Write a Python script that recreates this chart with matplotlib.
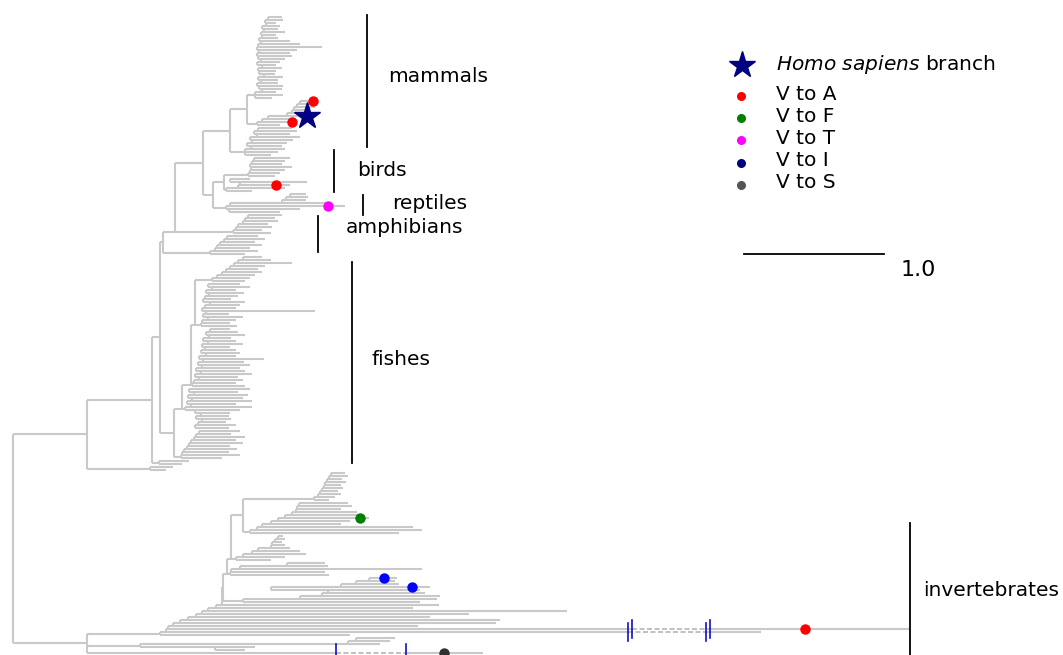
import matplotlib
matplotlib.use("Agg")
import matplotlib.pyplot as plt
from matplotlib.collections import LineCollection

# Values are branch lengths (distance from the root, scale bar = 1.0).
# Each bush: *_TIP = tip depth per leaf (top to bottom),
#            *_SPLIT = ladder split between consecutive items.
MAM_TOP_TIP = [1.92, 1.93, 1.88, 1.91, 1.89, 1.94, 1.88, 1.89, 1.98, 2.05,
               2.21, 2.03, 1.98, 1.99, 1.94, 1.91, 1.88, 1.92, 1.88, 1.87,
               1.93, 1.89, 1.89, 1.93, 1.92, 1.88, 1.93, 1.85]
MAM_TOP_SPLIT = [1.82, 1.80, 1.81, 1.78, 1.79, 1.77, 1.78, 1.76, 1.77, 1.75,
                 1.74, 1.76, 1.74, 1.75, 1.77, 1.74, 1.78, 1.75, 1.76, 1.79,
                 1.75, 1.77, 1.74, 1.76, 1.78, 1.73, 1.73]
PRIMATES_TIP = [2.15, 2.13, 2.16, 2.11, 2.13, 2.09, 2.02, 2.00, 1.91]
PRIMATES_SPLIT = [2.05, 2.03, 2.01, 1.99, 1.96, 1.82, 1.78, 1.74]
MAM_LOW_TIP = [1.99, 2.03, 1.98, 2.05, 2.00, 1.96, 1.92, 1.94, 1.89, 1.84]
MAM_LOW_SPLIT = [1.75, 1.72, 1.74, 1.69, 1.71, 1.67, 1.70, 1.66, 1.66]
BIRD_BUSH_TIP = [1.98, 1.94, 1.92, 1.99, 1.94, 1.91, 1.87]
BIRD_BUSH_SPLIT = [1.72, 1.71, 1.69, 1.70, 1.69, 1.68]
BIRD_RED_TIP = [1.69, 2.10, 1.98, 1.94, 1.71]
BIRD_RED_SPLIT = [1.55, 1.62, 1.61, 1.52]
REPTILE_TIP = [2.09, 2.11, 2.09, 2.26, 2.37, 2.05, 1.91]
REPTILE_SPLIT = [1.98, 1.95, 1.92, 1.55, 1.52, 1.54]
AMPH_A_TIP = [1.92, 1.87, 1.89, 1.82, 1.85, 1.78, 1.84]
AMPH_A_SPLIT = [1.68, 1.66, 1.64, 1.61, 1.59, 1.57]
AMPH_B_TIP = [1.75, 1.80, 1.73, 1.78, 1.69, 1.75, 1.66]
AMPH_B_SPLIT = [1.53, 1.51, 1.48, 1.46, 1.44, 1.41]
FISH_A_TIP = [1.78, 1.84, 1.99, 1.80, 1.75, 1.78, 1.73, 1.69, 1.66]
FISH_A_SPLIT = [1.64, 1.61, 1.58, 1.55, 1.52, 1.49, 1.46, 1.42]
FISH_B_TIP = [1.62, 1.69, 1.59, 1.65, 1.61, 1.56, 1.66, 1.62, 1.59, 2.16,
              1.54, 1.64, 1.59, 1.55, 1.60]
FISH_B_SPLIT = [1.39, 1.42, 1.38, 1.40, 1.37, 1.36, 1.41, 1.37, 1.35, 1.38,
                1.36, 1.39, 1.35, 1.34]
FISH_C_TIP = [1.55, 1.61, 1.66, 1.56, 1.59, 1.64, 1.55, 1.59, 1.62, 1.59,
              1.79, 1.65, 1.69, 1.62, 1.66, 1.71, 1.61, 1.64, 1.59, 1.66]
FISH_C_SPLIT = [1.41, 1.38, 1.40, 1.36, 1.39, 1.35, 1.37, 1.34, 1.38, 1.33,
                1.36, 1.32, 1.35, 1.31, 1.34, 1.30, 1.33, 1.29, 1.28]
FISH_D_TIP = [1.69, 1.61, 1.68, 1.64, 1.71, 1.59, 1.71, 1.62, 1.55, 1.54,
              1.56, 1.52, 1.59, 1.54]
FISH_D_SPLIT = [1.26, 1.29, 1.25, 1.28, 1.24, 1.27, 1.23, 1.30, 1.34, 1.31,
                1.35, 1.32, 1.30]
FISH_E_TIP = [1.62, 1.56, 1.66, 1.59, 1.64, 1.55, 1.60, 1.54, 1.62, 1.49]
FISH_E_SPLIT = [1.33, 1.31, 1.29, 1.27, 1.26, 1.24, 1.22, 1.21, 1.20]
CHOND_TIP = [1.26, 1.21]
CHOND_SPLIT = [1.04]
CYCLO_TIP = [1.14, 1.09]
CYCLO_SPLIT = [0.98]

INV_A1_TIP = [2.37, 2.39, 2.35, 2.38, 2.34, 2.36, 2.32, 2.34, 2.30, 2.26]
INV_A1_SPLIT = [2.27, 2.26, 2.24, 2.23, 2.22, 2.21, 2.19, 2.18, 2.15]
INV_A2_TIP = [2.39, 2.42, 2.34, 2.46, 2.49, 2.54, 2.41, 2.34, 2.86, 2.92, 2.76]
INV_A2_SPLIT = [2.04, 2.03, 2.02, 1.99, 1.94, 1.89, 1.84, 1.78, 1.74, 1.69]
INV_B_TIP = [1.93, 1.94, 1.92, 1.94, 1.98, 2.05, 2.09, 1.94, 1.84]
INV_B_SPLIT = [1.89, 1.87, 1.85, 1.84, 1.75, 1.71, 1.64, 1.59]
INV_C_TIP = [2.23, 2.25, 2.92, 2.23, 2.26]
INV_C_SPLIT = [1.96, 1.62, 1.56, 1.55]
INV_D_TIP = [2.74, 2.73, 2.76, 2.98, 2.91, 2.94, 3.05, 3.03, 2.91]
INV_D_SPLIT = [2.54, 2.45, 2.34, 1.84, 2.25, 2.21, 2.05, 1.64]
INV_E_TIP = [3.04, 2.86, 3.96, 3.26, 2.98, 3.48, 3.45, 2.89, 6.40, 5.34, 2.41]
INV_E_SPLIT = [1.49, 1.45, 1.39, 1.35, 1.31, 1.25, 1.19, 1.14, 1.11, 1.09, 1.05]
INV_BOT_TIP = [2.73, 2.69, 2.62, 1.73, 1.66]
INV_BOT_SPLIT = [2.45, 2.39, 0.91, 1.44]
BLACK_TIP = 3.36

# backbone: clade -> (children top to bottom, splits between them)
BACKBONE = {
    "root": (["vert", "invert"], [0.0]),
    "vert": (["gnath", "cyclo"], [0.53]),
    "gnath": (["osteo", "chond"], [0.99]),
    "osteo": (["tetrapods", "fishes"], [1.05]),
    "tetrapods": (["amniotes", "amph_a", "amph_b"], [1.16, 1.07]),
    "amniotes": (["mammals", "sauropsids"], [1.36]),
    "mammals": (["mam_a", "mam_low"], [1.55]),
    "mam_a": (["mam_top", "primates"], [1.67]),
    "sauropsids": (["birds", "reptiles"], [1.43]),
    "birds": (["bird_bush", "bird_red"], [1.51]),
    "fishes": (["fish_a", "fish_b", "fish_c", "fish_d", "fish_e"],
               [1.30, 1.27, 1.21, 1.15]),
    "invert": (["inv_ladder", "inv_bot", BLACK_TIP], [0.53, 0.53]),
    "inv_ladder": (["inv_upper"] + INV_E_TIP, INV_E_SPLIT),
    "inv_upper": (["inv_a", "inv_b", "inv_c", "inv_d"], [1.56, 1.53, 1.50]),
    "inv_a": (["inv_a1", "inv_a2"], [1.64]),
}

# truncated (broken) branches: clade, item, break start, break end
BREAK_CLADE = ["inv_ladder", "inv_ladder", "invert"]
BREAK_ITEM = [9, 10, 2]
BREAK_FROM = [4.42, 4.39, 2.31]
BREAK_TO = [4.98, 4.95, 2.81]

# V substitutions mapped on the tree
MUT_CLADE = ["primates", "primates", "bird_red", "reptiles", "inv_a2",
             "inv_d", "inv_d", "inv_ladder", "invert"]
MUT_ITEM = [0, 7, 2, 4, 5, 0, 3, 9, 2]
MUT_POS = [2.14, 1.99, 1.88, 2.25, 2.48, 2.65, 2.85, 5.66, 3.08]
MUT_KIND = ["A", "A", "A", "T", "F", "I", "I", "A", "S"]

HOMO_CLADE, HOMO_ITEM, HOMO_POS = "primates", 5, 2.10

LEGEND_LABELS = ["V to A", "V to F", "V to T", "V to I", "V to S"]
LEGEND_COLORS = ["#ff0000", "#008000", "#ff00ff", "#000080", "#555555"]
POINT_COLORS = {"A": "#ff0000", "F": "#008000", "T": "#ff00ff",
                "I": "#0000ff", "S": "#303030"}

CLADES = dict(BACKBONE)
CLADES.update({
    "mam_top": (MAM_TOP_TIP, MAM_TOP_SPLIT),
    "primates": (PRIMATES_TIP, PRIMATES_SPLIT),
    "mam_low": (MAM_LOW_TIP, MAM_LOW_SPLIT),
    "bird_bush": (BIRD_BUSH_TIP, BIRD_BUSH_SPLIT),
    "bird_red": (BIRD_RED_TIP, BIRD_RED_SPLIT),
    "reptiles": (REPTILE_TIP, REPTILE_SPLIT),
    "amph_a": (AMPH_A_TIP, AMPH_A_SPLIT),
    "amph_b": (AMPH_B_TIP, AMPH_B_SPLIT),
    "fish_a": (FISH_A_TIP, FISH_A_SPLIT),
    "fish_b": (FISH_B_TIP, FISH_B_SPLIT),
    "fish_c": (FISH_C_TIP, FISH_C_SPLIT),
    "fish_d": (FISH_D_TIP, FISH_D_SPLIT),
    "fish_e": (FISH_E_TIP, FISH_E_SPLIT),
    "chond": (CHOND_TIP, CHOND_SPLIT),
    "cyclo": (CYCLO_TIP, CYCLO_SPLIT),
    "inv_a1": (INV_A1_TIP, INV_A1_SPLIT),
    "inv_a2": (INV_A2_TIP, INV_A2_SPLIT),
    "inv_b": (INV_B_TIP, INV_B_SPLIT),
    "inv_c": (INV_C_TIP, INV_C_SPLIT),
    "inv_d": (INV_D_TIP, INV_D_SPLIT),
    "inv_bot": (INV_BOT_TIP, INV_BOT_SPLIT),
})
BREAKS = {(c, i): (a, b) for c, i, a, b in
          zip(BREAK_CLADE, BREAK_ITEM, BREAK_FROM, BREAK_TO)}

GREY = "#c9c9c9"
solid, dashed, ticks = [], [], []
leaf_y = {}
counter = [0]


def place(name):
    """Lay out a clade as a ladder; returns the point where its stem enters."""
    items, splits = CLADES[name]
    ys, ends = [], []
    for i, item in enumerate(items):
        if isinstance(item, str):
            x_in, y_in = place(item)
        else:
            x_in, y_in = item, counter[0]
            counter[0] += 1
            leaf_y[(name, i)] = y_in
        ys.append(y_in)
        ends.append(x_in)
    for k, s in enumerate(splits):
        solid.append([(s, ys[k]), (s, ys[k + 1])])
    for i, (y, end) in enumerate(zip(ys, ends)):
        start = min(splits[j] for j in (i - 1, i) if 0 <= j < len(splits))
        if (name, i) in BREAKS:
            b0, b1 = BREAKS[(name, i)]
            solid.append([(start, y), (b0, y)])
            dashed.append([(b0, y), (b1, y)])
            solid.append([(b1, y), (end, y)])
            ticks.extend([(b0, y), (b1, y)])
        else:
            solid.append([(start, y), (end, y)])
    low = min(splits)
    ks = [k for k, s in enumerate(splits) if s == low]
    return low, (ys[ks[0]] + ys[ks[-1] + 1]) / 2


W, H = 1063, 655
fig = plt.figure(figsize=(W / 100, H / 100), dpi=100)
ax = fig.add_axes([0, 0, 1, 1])
ax.set_xlim(-13 / 140, 1050 / 140)
ax.set_ylim(638 / 3, -17 / 3)
ax.axis("off")

place("root")

ax.add_collection(LineCollection(solid, colors=GREY, linewidths=1.5,
                                 capstyle="butt", zorder=1))
ax.add_collection(LineCollection(dashed, colors="#b5b5b5", linewidths=1.2,
                                 linestyles=(0, (3, 1.5)), zorder=1))
for x, y in ticks:
    ax.plot([x, x], [y - 3, y + 3], color="#1010c8", lw=1.2, zorder=2)

for c, i, pos, kind in zip(MUT_CLADE, MUT_ITEM, MUT_POS, MUT_KIND):
    ax.plot(pos, leaf_y[(c, i)], "o", ms=7.5, color=POINT_COLORS[kind],
            mec="none", zorder=4)
ax.plot(HOMO_POS, leaf_y[(HOMO_CLADE, HOMO_ITEM)], "*", ms=20,
        color="#000080", mec="#000080", zorder=5)

# clade labels: text, bar x, bar top, bar bottom, text x, text y
clade_labels = [
    ("mammals", 2.53, -0.7, 43.3, 2.68, 20.0),
    ("birds", 2.29, 44.3, 58.3, 2.46, 51.0),
    ("reptiles", 2.50, 59.3, 66.0, 2.71, 62.3),
    ("amphibians", 2.18, 66.3, 78.3, 2.38, 70.3),
    ("fishes", 2.42, 81.7, 148.7, 2.56, 114.3),
    ("invertebrates", 6.41, 168.7, 214.0, 6.50, 191.0),
]
for text, bx, b0, b1, tx, ty in clade_labels:
    ax.plot([bx, bx], [b0, b1], color="black", lw=1.3, zorder=3)
    ax.text(tx, ty, text, fontsize=14.5, ha="left", va="center")

# scale bar
ax.plot([5.22, 6.22], [79.0, 79.0], color="black", lw=1.3)
ax.text(6.34, 84.5, "1.0", fontsize=16, ha="left", va="center")


# legend
def frac(px, py):
    return px / W, 1 - py / H


ax.plot(*frac(742, 65), "*", ms=20, color="#000080", transform=ax.transAxes,
        clip_on=False)
ax.text(*frac(776, 64), r"$\it{Homo\ sapiens}$ branch", fontsize=14.5,
        va="center", transform=ax.transAxes)
for k, (lab, col) in enumerate(zip(LEGEND_LABELS, LEGEND_COLORS)):
    py = 96 + 22.2 * k
    ax.plot(*frac(741, py), "o", ms=6.5, color=col, mec="none",
            transform=ax.transAxes)
    ax.text(*frac(776, py - 2), lab, fontsize=14.5, va="center",
            transform=ax.transAxes)

fig.savefig("out.png", dpi=100)
